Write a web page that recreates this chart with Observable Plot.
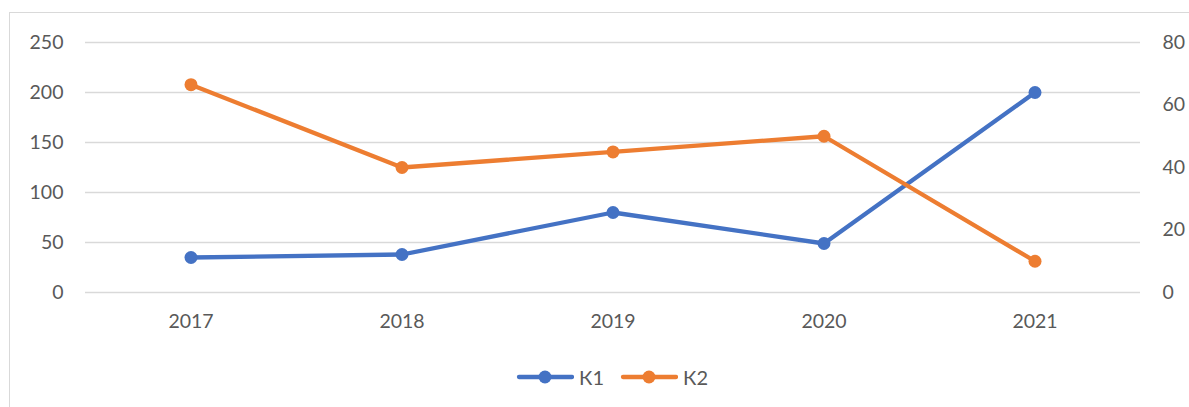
<!DOCTYPE html>
<html>
<head>
<meta charset="utf-8">
<script src="https://cdn.jsdelivr.net/npm/d3@7"></script>
<script src="https://cdn.jsdelivr.net/npm/@observablehq/plot@0.6"></script>
<style>
  html, body { margin: 0; padding: 0; background: #fff; }
  body { width: 1189px; height: 407px; position: relative; overflow: hidden; font-family: Lato, "Open Sans", sans-serif; }
  #frame { position: absolute; left: 9px; top: 12px; width: 1200px; height: 420px; border: 1.5px solid #d9d9d9; box-sizing: border-box; }
  #chart { position: absolute; left: 0; top: 0; }
  #legend { position: absolute; left: 516px; top: 365px; display: flex; gap: 16px; font-size: 20px; color: #595959; }
  .item { display: flex; align-items: center; gap: 5px; }
</style>
</head>
<body>
<div id="frame"></div>
<div id="chart"></div>
<div id="legend"></div>
<script>
const years = ["2017", "2018", "2019", "2020", "2021"];
const k1 = [35, 38, 80, 49, 200];
const k2 = [66.5, 40, 45, 50, 10];
const seriesNames = ["К1", "К2"];
const colors = ["#4472C4", "#ED7D31"];
const leftTicks = [0, 50, 100, 150, 200, 250];
const rightTicks = [0, 20, 40, 60, 80];
const leftMax = 250, rightMax = 80;

const toLeft = v => v * leftMax / rightMax;
const rows = [
  ...years.map((y, i) => ({year: y, value: k1[i], series: seriesNames[0]})),
  ...years.map((y, i) => ({year: y, value: toLeft(k2[i]), series: seriesNames[1]}))
];

const chart = Plot.plot({
  width: 1189,
  height: 345,
  marginTop: 42,
  marginBottom: 53,
  marginLeft: 85,
  marginRight: 49,
  style: {fontFamily: "Lato, 'Open Sans', sans-serif", fontSize: "19.5px", color: "#595959", background: "transparent"},
  x: {type: "band", domain: years, padding: 0},
  y: {domain: [0, leftMax]},
  color: {domain: seriesNames, range: colors},
  marks: [
    Plot.gridY(leftTicks, {stroke: "#d9d9d9", strokeOpacity: 1, strokeWidth: 1.3}),
    Plot.axisY({ticks: leftTicks, tickSize: 0, tickPadding: 22, label: null, anchor: "left"}),
    Plot.axisY({ticks: rightTicks.map(toLeft), tickFormat: d => Math.round(d * rightMax / leftMax), tickSize: 0, tickPadding: 22, label: null, anchor: "right"}),
    Plot.axisX({tickSize: 0, tickPadding: 22, label: null}),
    Plot.line(rows, {x: "year", y: "value", z: "series", stroke: "series", strokeWidth: 4.3, curve: "linear"}),
    Plot.dot(rows, {x: "year", y: "value", fill: "series", r: 6.5})
  ]
});
document.getElementById("chart").appendChild(chart);

const legend = document.getElementById("legend");
seriesNames.forEach((name, i) => {
  const item = document.createElement("div");
  item.className = "item";
  item.innerHTML = `<svg width="58" height="16"><line x1="3" y1="8" x2="56" y2="8" stroke="${colors[i]}" stroke-width="4.3" stroke-linecap="round"/><circle cx="29" cy="8" r="6.5" fill="${colors[i]}"/></svg><span>${name}</span>`;
  legend.appendChild(item);
});
</script>
</body>
</html>
